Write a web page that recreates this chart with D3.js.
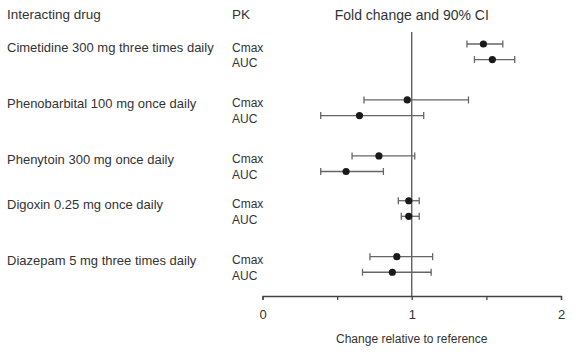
<!DOCTYPE html>
<html>
<head>
<meta charset="utf-8">
<script src="https://cdn.jsdelivr.net/npm/d3@7"></script>
<style>
  body { margin: 0; background: #fff; }
  text { font-family: "Liberation Sans", Arial, sans-serif; fill: #333; }
</style>
</head>
<body>
<div id="chart"></div>
<script>
// Interacting drugs (one group each, two PK rows per group)
const drugs = [
    'Cimetidine 300 mg three times daily',
    'Phenobarbital 100 mg once daily',
    'Phenytoin 300 mg once daily',
    'Digoxin 0.25 mg once daily',
    'Diazepam 5 mg three times daily'
];
const pkParams = ['Cmax', 'AUC'];

// Fold change point estimates, [Cmax, AUC] per drug
const foldChange = [
    [1.48, 1.54],
    [0.97, 0.65],
    [0.78, 0.56],
    [0.98, 0.98],
    [0.90, 0.87]
];
// 90% CI lower / upper bounds, [Cmax, AUC] per drug
const ciLower = [
    [1.37, 1.42],
    [0.68, 0.39],
    [0.60, 0.39],
    [0.91, 0.93],
    [0.72, 0.67]
];
const ciUpper = [
    [1.61, 1.69],
    [1.38, 1.08],
    [1.02, 0.81],
    [1.05, 1.05],
    [1.14, 1.13]
];
const xTicks = [0, 0.5, 1, 1.5, 2];
const xTickLabels = ['0', '', '1', '', '2'];

const width = 576, height = 352;

const svg = d3.select('#chart')
    .append('svg')
    .attr('width', width)
    .attr('height', height);

// Scales
const x = d3.scaleLinear().domain([0, 2]).range([262.5, 561]);

// rows are laid out on slots; the Digoxin group sits a bit closer to the one above
const groupSpan = [5, 5, 4, 5];
const groupStart = [0];
groupSpan.forEach((s, i) => groupStart.push(groupStart[i] + s));
const y = d3.scaleLinear().domain([0, 19]).range([44, 256.7]);
const pkOffset = 1.39;

// Flatten into rows
const rows = [];
drugs.forEach((drug, i) => {
    pkParams.forEach((pk, j) => {
        rows.push({
            drug, pk, first: j === 0,
            est: foldChange[i][j],
            lo: ciLower[i][j],
            hi: ciUpper[i][j],
            y: y(groupStart[i] + j * pkOffset)
        });
    });
});

const axisY = 296;

// Headers
svg.append('text').attr('x', 7).attr('y', 19).attr('font-size', 13.5).text('Interacting drug');
svg.append('text').attr('x', 232).attr('y', 19).attr('font-size', 13.5).text('PK');
svg.append('text').attr('x', x(1)).attr('y', 20).attr('font-size', 14)
    .attr('text-anchor', 'middle').text('Fold change and 90% CI');

// Reference line at 1
svg.append('line')
    .attr('x1', x(1)).attr('x2', x(1))
    .attr('y1', 32).attr('y2', axisY)
    .attr('stroke', '#555').attr('stroke-width', 1.3);

// X axis
const xAxis = d3.axisBottom(x)
    .tickValues(xTicks)
    .tickFormat((d, i) => xTickLabels[i])
    .tickSize(4)
    .tickPadding(10);
const gx = svg.append('g')
    .attr('transform', `translate(0,${axisY})`)
    .call(xAxis);
gx.select('.domain').attr('stroke', '#444').attr('stroke-width', 1.3);
gx.selectAll('.tick line').attr('stroke', '#444').attr('stroke-width', 1.3);
gx.selectAll('.tick text')
    .attr('font-size', 13)
    .attr('font-family', '"Liberation Sans", Arial, sans-serif')
    .attr('fill', '#333');

svg.append('text')
    .attr('x', x(1)).attr('y', 343)
    .attr('text-anchor', 'middle')
    .attr('font-size', 12)
    .text('Change relative to reference');

// Row labels
svg.selectAll('.drug-label')
    .data(rows.filter(d => d.first))
    .enter()
    .append('text')
    .attr('class', 'drug-label')
    .attr('x', 7)
    .attr('y', d => d.y + 8)
    .attr('font-size', 13)
    .text(d => d.drug);

svg.selectAll('.pk-label')
    .data(rows)
    .enter()
    .append('text')
    .attr('class', 'pk-label')
    .attr('x', 232)
    .attr('y', d => d.y + 7.5)
    .attr('font-size', 12)
    .text(d => d.pk);

// CI whiskers
const ci = svg.selectAll('.ci')
    .data(rows)
    .enter()
    .append('g')
    .attr('class', 'ci')
    .attr('stroke', '#666')
    .attr('stroke-width', 1.3);

ci.append('line')
    .attr('x1', d => x(d.lo)).attr('x2', d => x(d.hi))
    .attr('y1', d => d.y).attr('y2', d => d.y);
ci.append('line')
    .attr('x1', d => x(d.lo)).attr('x2', d => x(d.lo))
    .attr('y1', d => d.y - 3.5).attr('y2', d => d.y + 3.5);
ci.append('line')
    .attr('x1', d => x(d.hi)).attr('x2', d => x(d.hi))
    .attr('y1', d => d.y - 3.5).attr('y2', d => d.y + 3.5);

// Point estimates
svg.selectAll('.pt')
    .data(rows)
    .enter()
    .append('circle')
    .attr('class', 'pt')
    .attr('cx', d => x(d.est))
    .attr('cy', d => d.y)
    .attr('r', 3.6)
    .attr('fill', '#1a1a1a');
</script>
</body>
</html>
